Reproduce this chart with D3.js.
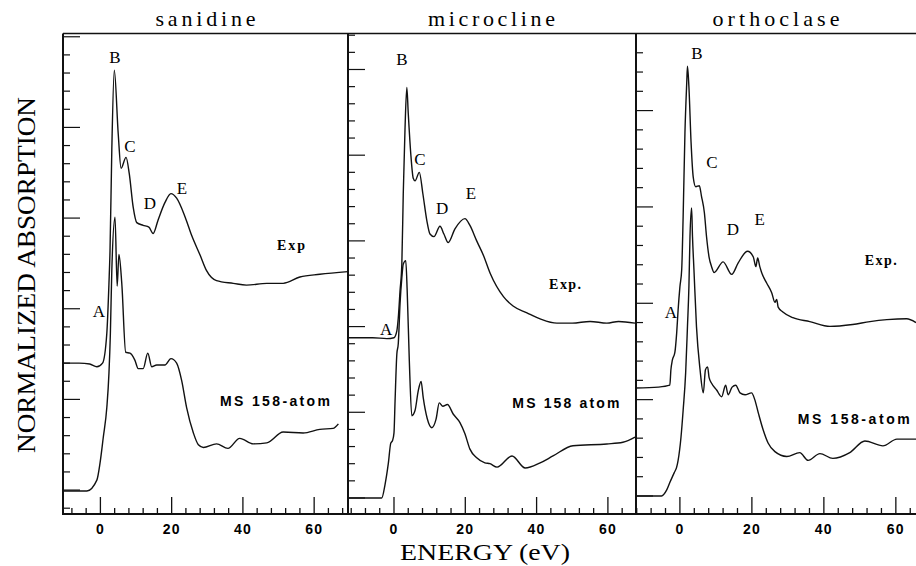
<!DOCTYPE html>
<html>
<head>
<meta charset="utf-8">
<script src="https://cdn.jsdelivr.net/npm/d3@7"></script>
<style>
  body { margin: 0; background: #fff; }
  svg { display: block; }
</style>
</head>
<body>
<div id="chart"></div>
<script>
// data ++++++++++++++++++++++++++++++++++++++++++
// [energy (eV), normalized absorption (arb. units, 1 = one major tick)]
const panelNames = ["sanidine", "microcline", "orthoclase"];
const peakLetters = ["A", "B", "C", "D", "E"];
const expLabels = ["Exp", "Exp.", "Exp."];
const msLabels = ["MS 158-atom", "MS 158 atom", "MS 158-atom"];
const xTickLabels = [0, 20, 40, 60];

const sanidineExp = [[-10.5,1.40],[-6,1.40],[-3,1.39],[-1,1.36],[0.6,1.40],[1.8,1.73],[2.4,2.28],[2.7,2.64],[3.2,3.75],[3.9,4.63],[5.0,3.93],[5.8,3.55],[7.2,3.67],[8.1,3.49],[9.2,3.12],[10.2,2.95],[12.0,2.92],[13.6,2.90],[14.8,2.83],[16.2,2.98],[18.1,3.17],[19.8,3.27],[21.4,3.22],[23.8,3.01],[25.6,2.81],[28.0,2.59],[29.8,2.42],[32.6,2.31],[37.3,2.28],[41,2.26],[46.7,2.28],[51.3,2.28],[56,2.35],[61.6,2.38],[69.5,2.41]];
const sanidineMS = [[-10.5,-0.01],[-3.8,-0.01],[-1.0,0.11],[-0.1,0.30],[0.8,0.58],[1.8,0.91],[2.4,1.29],[2.8,1.73],[3.2,2.42],[4.1,3.01],[4.7,2.25],[5.2,2.60],[6.0,2.28],[7.1,1.52],[8.3,1.51],[9.7,1.43],[10.6,1.34],[12.0,1.34],[13.3,1.51],[14.4,1.36],[15.8,1.38],[18.1,1.38],[19.8,1.45],[21.4,1.40],[22.8,1.21],[24.2,0.91],[26.1,0.63],[27.5,0.50],[28.9,0.47],[32.6,0.51],[35.8,0.46],[39.1,0.57],[42.9,0.51],[46.7,0.52],[51.3,0.64],[56.9,0.63],[61.6,0.67],[65.3,0.68],[66.8,0.73]];

const microclineExp = [[-12.9,1.87],[-6,1.87],[-2,1.86],[0,1.87],[0.8,1.95],[1.2,2.10],[1.7,2.42],[2.2,2.73],[2.6,3.55],[3.1,4.32],[3.6,4.79],[4.0,4.49],[4.7,4.02],[5.4,3.73],[5.9,3.70],[7.1,3.80],[8.1,3.55],[9.2,3.24],[10.1,3.08],[11.2,3.05],[12.9,3.17],[14.0,3.08],[15.2,2.98],[17.1,3.14],[19.9,3.26],[21.3,3.18],[23.2,3.00],[25.1,2.83],[27,2.62],[30.7,2.35],[33.4,2.24],[37.3,2.16],[41,2.09],[45.7,2.04],[50,2.04],[55,2.06],[59.7,2.04],[63,2.06],[67.6,2.04]];
const microclineMS = [[-12.9,0],[-3.45,0],[-2.5,0.16],[-1.6,0.40],[-0.9,0.64],[-0.4,0.67],[0,0.76],[0.3,1.13],[0.8,1.68],[1.2,1.80],[1.7,2.27],[2.2,2.57],[2.6,2.73],[3.3,2.77],[3.7,2.42],[4.3,1.60],[5.0,0.96],[5.9,1.02],[6.8,1.25],[7.6,1.36],[8.2,1.17],[9.3,0.93],[10.6,0.82],[11.8,0.92],[12.7,1.11],[13.7,1.07],[15.0,1.09],[16.6,0.98],[18.5,0.88],[19.9,0.75],[21.3,0.57],[23.2,0.47],[25.5,0.41],[26.9,0.40],[28.9,0.36],[33.1,0.49],[36.8,0.35],[41,0.41],[44.6,0.49],[50.2,0.61],[59.7,0.63],[64.2,0.65],[67.6,0.71]];

const orthoclaseExp = [[-12.2,1.12],[-6,1.13],[-2.8,1.15],[-2.5,1.31],[-2.1,1.41],[-1.4,1.49],[-0.9,1.69],[-0.5,1.93],[0,2.17],[0.5,2.35],[0.9,2.90],[1.4,3.77],[1.9,4.29],[2.1,4.46],[2.5,4.25],[3.1,3.67],[3.7,3.31],[4.4,3.21],[5.4,3.22],[6.0,3.11],[6.8,2.94],[7.4,2.69],[8.1,2.48],[8.8,2.38],[9.5,2.32],[12.0,2.43],[14.4,2.30],[16.2,2.42],[18.8,2.54],[20.4,2.48],[21.1,2.38],[21.6,2.47],[22.2,2.38],[22.7,2.32],[24.1,2.21],[25.5,2.11],[26.4,2.01],[26.9,2.04],[27.3,1.96],[28.6,1.91],[31.4,1.85],[36.1,1.81],[41.7,1.76],[48,1.78],[52.8,1.81],[57.5,1.83],[63,1.84],[65.6,1.80]];
const orthoclaseMS = [[-12.2,0],[-5.1,0],[-3.7,0.06],[-2.8,0.14],[-1.6,0.24],[-0.9,0.30],[-0.5,0.37],[0.3,0.61],[0.9,0.89],[1.6,1.28],[2.1,1.76],[2.5,2.17],[2.8,2.69],[3.25,2.99],[3.5,2.69],[3.9,2.35],[4.6,1.76],[5.6,1.31],[6.5,1.07],[7.1,1.31],[7.7,1.34],[8.1,1.23],[8.8,1.17],[10.2,1.10],[11.6,1.03],[12.7,1.15],[13.4,1.05],[14.5,1.13],[15.5,1.15],[16.7,1.07],[18.1,1.05],[19.9,1.07],[20.8,1.00],[21.8,0.86],[23.1,0.69],[24.5,0.55],[26.4,0.46],[29.7,0.41],[33.3,0.45],[35.6,0.37],[38.9,0.44],[42.5,0.39],[47.2,0.45],[51.4,0.57],[56.4,0.52],[60.3,0.59],[65.6,0.59]];

// peak-letter positions A..E, then Exp and MS label positions (data coords)
const sanidineNotes = [[-0.4,1.97],[4.1,4.78],[8.3,3.79],[13.9,3.17],[22.9,3.33],[53.5,2.70],[49.0,0.98]];
const microclineNotes = [[-2.2,1.97],[2.2,5.12],[7.3,3.96],[13.5,3.38],[21.6,3.56],[48.0,2.50],[48.2,1.11]];
const orthoclaseNotes = [[-2.5,1.91],[4.7,4.60],[8.9,3.47],[14.7,2.77],[22.2,2.87],[55.8,2.45],[48.3,0.80]];
// data ------------------------------------------

const width = 916, height = 566;
const plotTop = 33.5, plotBottom = 514;

// layout of each panel (pixel ranges and axis domains)
const panels = [
  { name: panelNames[0], exp: sanidineExp, ms: sanidineMS, notes: sanidineNotes,
    left: 63, right: 348, xDom: [-10.5, 69.5], yDom: [-0.264, 5.036], expW: 28, msW: 110 },
  { name: panelNames[1], exp: microclineExp, ms: microclineMS, notes: microclineNotes,
    left: 348, right: 635, xDom: [-12.9, 67.6], yDom: [-0.187, 5.42], expW: 32, msW: 107 },
  { name: panelNames[2], exp: orthoclaseExp, ms: orthoclaseMS, notes: orthoclaseNotes,
    left: 636, right: 916, xDom: [-12.2, 65.6], yDom: [-0.187, 4.80], expW: 32, msW: 112 }
];

const svg = d3.select("#chart")
  .append("svg")
  .attr("width", width)
  .attr("height", height);

svg.append("rect").attr("width", width).attr("height", height).attr("fill", "#fff");

const serif = "'Liberation Serif', 'Times New Roman', serif";
const sans = "'Liberation Sans', Arial, sans-serif";

// top frame line across all panels
svg.append("line")
  .attr("x1", 63).attr("x2", width).attr("y1", plotTop).attr("y2", plotTop)
  .attr("stroke", "#111").attr("stroke-width", 1.4);

panels.forEach((p, i) => {
  const x = d3.scaleLinear().domain(p.xDom).range([p.left, p.right]);
  const y = d3.scaleLinear().domain(p.yDom).range([plotBottom, plotTop]);
  const g = svg.append("g");

  // y ticks: minor every 0.2, major every 1
  const yMinor = d3.range(Math.ceil(p.yDom[0] / 0.2) * 0.2, p.yDom[1], 0.2);
  g.selectAll(".ytick").data(yMinor).enter()
    .append("line")
    .attr("x1", p.left)
    .attr("x2", d => p.left + (Math.abs(d - Math.round(d)) < 0.01 ? 17 : 7))
    .attr("y1", d => y(d)).attr("y2", d => y(d))
    .attr("stroke", "#111").attr("stroke-width", 1.2);

  // x ticks: minor every 4 eV, major every 20 eV
  const xMinor = d3.range(Math.ceil(p.xDom[0] / 4) * 4, p.xDom[1], 4);
  g.selectAll(".xtick").data(xMinor).enter()
    .append("line")
    .attr("x1", d => x(d)).attr("x2", d => x(d))
    .attr("y1", plotBottom)
    .attr("y2", d => plotBottom - (d % 20 === 0 ? 17 : 6))
    .attr("stroke", "#111").attr("stroke-width", 1.3);

  g.selectAll(".xlab").data(xTickLabels.filter(d => x(d) < width - 8)).enter()
    .append("text")
    .attr("x", d => x(d)).attr("y", 534)
    .attr("text-anchor", "middle")
    .attr("font-family", sans).attr("font-weight", "bold")
    .attr("font-size", 14).attr("letter-spacing", 1.2)
    .text(d => d);

  // frame: left axis and bottom axis
  g.append("line")
    .attr("x1", p.left).attr("x2", p.left).attr("y1", plotTop).attr("y2", plotBottom + 1)
    .attr("stroke", "#111").attr("stroke-width", 2);
  g.append("line")
    .attr("x1", p.left).attr("x2", p.right).attr("y1", plotBottom).attr("y2", plotBottom)
    .attr("stroke", "#111").attr("stroke-width", 2.2);

  // curves
  const line = d3.line()
    .x(d => x(d[0])).y(d => y(d[1]))
    .curve(d3.curveMonotoneX);
  [p.exp, p.ms].forEach(series => {
    g.append("path")
      .datum(series)
      .attr("d", line)
      .attr("fill", "none")
      .attr("stroke", "#111")
      .attr("stroke-width", 1.4)
      .attr("stroke-linejoin", "round");
  });

  // panel title
  g.append("text")
    .attr("x", (p.left + p.right) / 2).attr("y", 26)
    .attr("text-anchor", "middle")
    .attr("font-family", serif).attr("font-size", 22)
    .attr("textLength", i === 0 ? 100 : 127).attr("lengthAdjust", "spacing")
    .text(p.name);

  // peak letters
  g.selectAll(".peak").data(peakLetters).enter()
    .append("text")
    .attr("x", (d, j) => x(p.notes[j][0]))
    .attr("y", (d, j) => y(p.notes[j][1]))
    .attr("dy", "0.35em")
    .attr("text-anchor", "middle")
    .attr("font-family", serif).attr("font-size", 17)
    .text(d => d);

  // series labels
  g.append("text")
    .attr("x", x(p.notes[5][0])).attr("y", y(p.notes[5][1]))
    .attr("dy", "0.35em").attr("text-anchor", "middle")
    .attr("font-family", serif).attr("font-weight", "bold").attr("font-size", 14)
    .attr("textLength", p.expW).attr("lengthAdjust", "spacing")
    .text(expLabels[i]);
  g.append("text")
    .attr("x", x(p.notes[6][0])).attr("y", y(p.notes[6][1]))
    .attr("dy", "0.35em").attr("text-anchor", "middle")
    .attr("font-family", sans).attr("font-weight", "bold").attr("font-size", 14)
    .attr("textLength", p.msW).attr("lengthAdjust", "spacing")
    .text(msLabels[i]);
});

// axis titles
svg.append("text")
  .attr("x", 485).attr("y", 560)
  .attr("text-anchor", "middle")
  .attr("font-family", serif).attr("font-size", 23.5)
  .attr("textLength", 170).attr("lengthAdjust", "spacingAndGlyphs")
  .text("ENERGY (eV)");

svg.append("text")
  .attr("transform", "translate(35,275) rotate(-90)")
  .attr("text-anchor", "middle")
  .attr("font-family", serif).attr("font-size", 26)
  .attr("textLength", 356).attr("lengthAdjust", "spacingAndGlyphs")
  .text("NORMALIZED ABSORPTION");
</script>
</body>
</html>
